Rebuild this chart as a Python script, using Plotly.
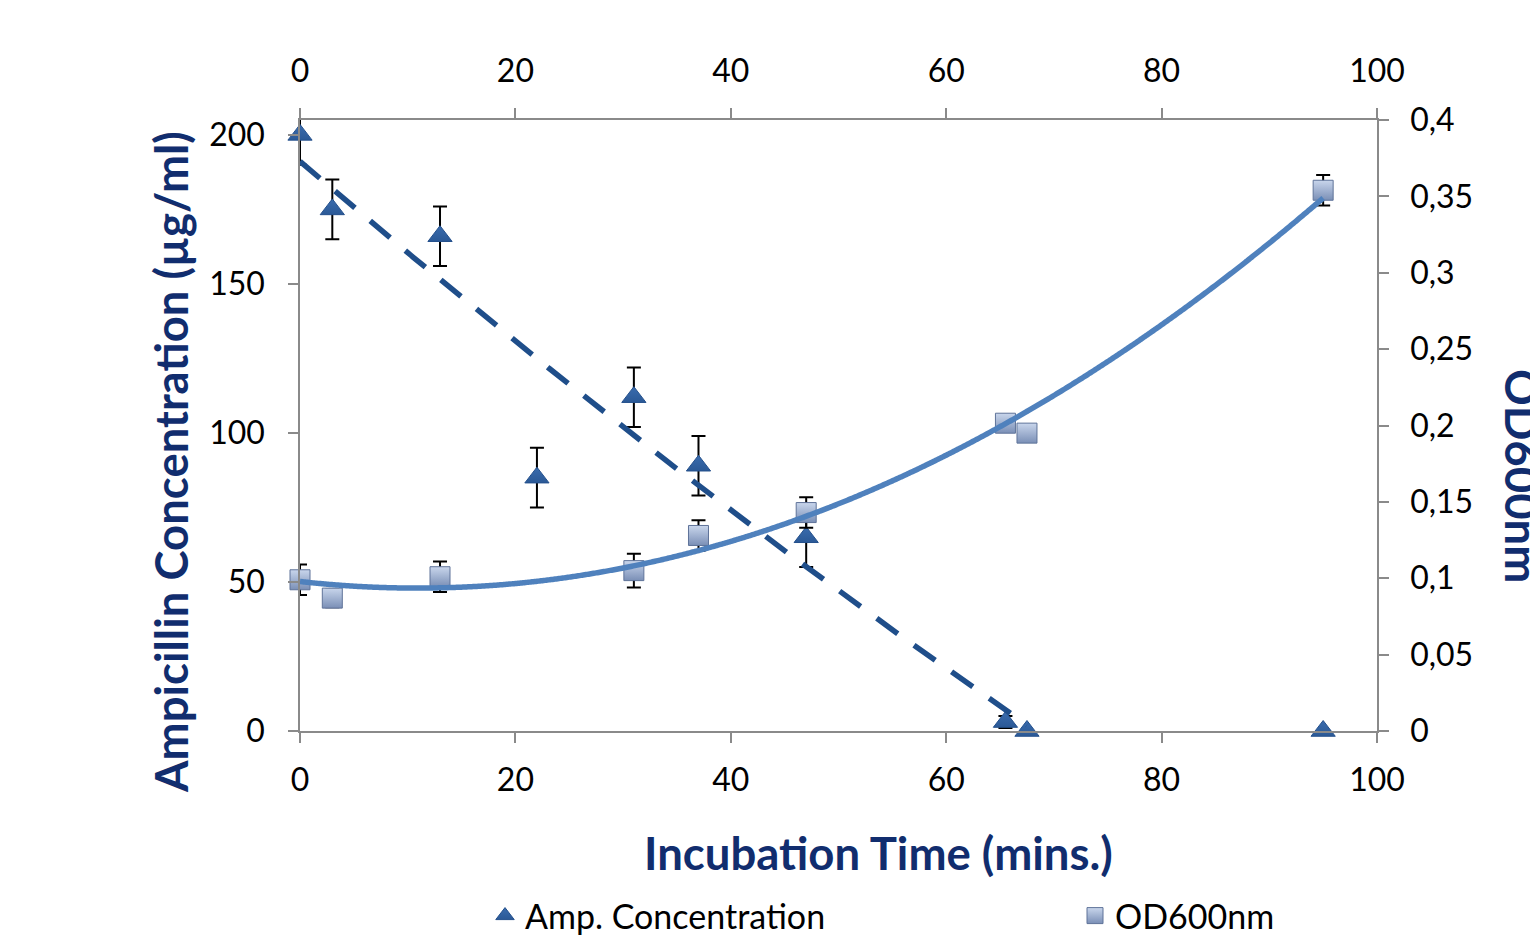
import numpy as np
import plotly.graph_objects as go

# ---- data ----
amp_time = [0, 3, 13, 22, 31, 37, 47, 65.5, 67.5, 95]
amp_conc = [200, 175, 166, 85, 112, 89, 65, 3, 0, 0]
amp_err = [10, 10, 10, 10, 10, 10, 10, 2, 0, 0]

od_time = [0, 3, 13, 31, 37, 47, 65.5, 67.5, 95]
od_value = [0.099, 0.087, 0.101, 0.105, 0.128, 0.143, 0.2015, 0.195, 0.354]
od_err = [0.01, 0.006, 0.01, 0.011, 0.01, 0.01, 0.004, 0.004, 0.01]

x_ticks = [0, 20, 40, 60, 80, 100]
left_ticks = [0, 50, 100, 150, 200]
right_ticks = [0, 0.05, 0.1, 0.15, 0.2, 0.25, 0.3, 0.35, 0.4]
right_tick_labels = ["0", "0,05", "0,1", "0,15", "0,2", "0,25", "0,3", "0,35", "0,4"]

# ---- trendlines (order-2 polynomial fits, as in the original) ----
n_fit_amp = 9  # trendline covers the points up to 67.5 min
amp_coef = np.polyfit(amp_time[:n_fit_amp], amp_conc[:n_fit_amp], 2)
amp_tt = np.linspace(amp_time[0], amp_time[n_fit_amp - 1], 400)
amp_fit = np.polyval(amp_coef, amp_tt)

od_coef = np.polyfit(od_time, od_value, 2)
od_tt = np.linspace(od_time[0], od_time[-1], 400)
od_fit = np.polyval(od_coef, od_tt)

NAVY = "#112D6E"
AX = "#8A8A8A"

fig = go.Figure()

# error bars (clipped to plot area)
fig.add_trace(go.Scatter(
    x=amp_time, y=amp_conc, mode="markers", showlegend=False, hoverinfo="skip",
    marker=dict(size=1, color="rgba(0,0,0,0)"),
    error_y=dict(type="data", array=amp_err, color="black", thickness=2, width=7),
    cliponaxis=True, xaxis="x", yaxis="y"))
fig.add_trace(go.Scatter(
    x=od_time, y=od_value, mode="markers", showlegend=False, hoverinfo="skip",
    marker=dict(size=1, color="rgba(0,0,0,0)"),
    error_y=dict(type="data", array=od_err, color="black", thickness=2, width=7),
    cliponaxis=True, xaxis="x2", yaxis="y2"))

# markers
fig.add_trace(go.Scatter(
    x=amp_time, y=amp_conc, mode="markers", name="Amp. Concentration",
    marker=dict(symbol="triangle-up", size=21, color="#3A6CAE",
                line=dict(color="#24508C", width=1),
                gradient=dict(type="vertical", color="#2B5996")),
    cliponaxis=False, xaxis="x", yaxis="y", legend="legend"))
fig.add_trace(go.Scatter(
    x=od_time, y=od_value, mode="markers", name="OD600nm",
    marker=dict(symbol="square", size=20, color="#C9D6EC",
                line=dict(color="#5F7399", width=1),
                gradient=dict(type="vertical", color="#7A8FB6")),
    cliponaxis=False, xaxis="x2", yaxis="y2", legend="legend2"))

# trendlines
fig.add_trace(go.Scatter(
    x=amp_tt, y=amp_fit, mode="lines", showlegend=False, hoverinfo="skip",
    line=dict(color="#1F4E8A", width=5.5, dash="26px,20px"),
    xaxis="x", yaxis="y"))
fig.add_trace(go.Scatter(
    x=od_tt, y=od_fit, mode="lines", showlegend=False, hoverinfo="skip",
    line=dict(color="#4F81BD", width=5.5, shape="spline"),
    xaxis="x2", yaxis="y2"))

axis_common = dict(showline=True, linecolor=AX, linewidth=1.5, ticks="outside",
                   ticklen=10, tickwidth=1.5, tickcolor=AX, showgrid=False,
                   zeroline=False, tickfont=dict(size=32, color="black"),
                   automargin=False)

fig.update_layout(
    width=1530, height=942,
    margin=dict(l=300, r=153, t=120, b=211, autoexpand=False),
    paper_bgcolor="white", plot_bgcolor="white",
    font=dict(family="Lato", color="black", size=32),
    xaxis=dict(range=[0, 100], tickvals=x_ticks, anchor="y", side="bottom",
               ticklabelstandoff=10, **axis_common),
    xaxis2=dict(range=[0, 100], tickvals=x_ticks, anchor="y2", side="top",
                overlaying="x", ticklabelstandoff=13, **axis_common),
    yaxis=dict(range=[0, 205], tickvals=left_ticks, anchor="x", side="left",
               ticklabelstandoff=17, **axis_common),
    yaxis2=dict(range=[0, 0.4], tickvals=right_ticks, ticktext=right_tick_labels,
                anchor="x2", side="right", overlaying="y", ticklabelstandoff=15,
                **axis_common),
    legend=dict(orientation="h", x=(485 - 300) / 1077, y=(731 - 916) / 611,
                xanchor="left", yanchor="middle", font=dict(size=34, color="black"),
                bgcolor="rgba(0,0,0,0)"),
    legend2=dict(orientation="h", x=(1075 - 300) / 1077, y=(731 - 916) / 611,
                 xanchor="left", yanchor="middle", font=dict(size=34, color="black"),
                 bgcolor="rgba(0,0,0,0)"),
    annotations=[
        dict(text="<b>Ampicillin Concentration (µg/ml)</b>", xref="paper", yref="paper",
             x=(170 - 300) / 1077, y=(731 - 462) / 611, textangle=-90, showarrow=False,
             xanchor="center", yanchor="middle", font=dict(size=45.5, color=NAVY)),
        dict(text="<b>Incubation Time (mins.)</b>", xref="paper", yref="paper",
             x=(878 - 300) / 1077, y=(731 - 853) / 611, showarrow=False,
             xanchor="center", yanchor="middle", font=dict(size=45.5, color=NAVY)),
        dict(text="<b>OD600nm</b>", xref="paper", yref="paper",
             x=(1523 - 300) / 1077, y=(731 - 476) / 611, textangle=90, showarrow=False,
             xanchor="center", yanchor="middle", font=dict(size=45.5, color=NAVY)),
    ],
)

fig.write_html("out.html")
